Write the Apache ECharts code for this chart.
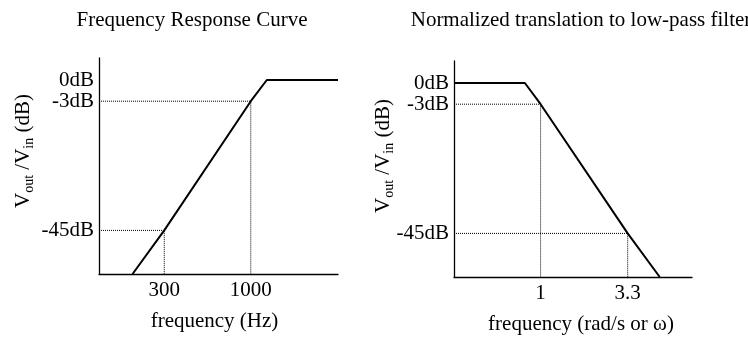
<!DOCTYPE html>
<html>
<head>
<meta charset="utf-8">
<script src="https://cdn.jsdelivr.net/npm/echarts@6/dist/echarts.min.js"></script>
<style>
  html, body { margin: 0; padding: 0; background: #fff; }
  #chart { width: 748px; height: 341px; }
</style>
</head>
<body>
<div id="chart"></div>
<script>
// High-pass response (Hz) and its normalized low-pass equivalent (rad/s)
const hpFreq = [193, 300, 1000, 1250, 3366];
const hpGain = [-77, -45, -3, 0, 0];
const lpFreq = [0.305, 0.806, 1, 3.3, 5.12];
const lpGain = [0, 0, -3, -45, -77];

// Reference points marked with dotted guides
const hpMarkFreq = [300, 1000];
const hpMarkGain = [-45, -3];
const lpMarkFreq = [1, 3.3];
const lpMarkGain = [-3, -45];

// Tick labels
const hpFreqTicks = [300, 1000];
const lpFreqTicks = [1, 3.3];
const gainTicks = [0, -3, -45];

// Axis extents
const hpFreqRange = [121, 3366];
const lpFreqRange = [0.305, 7.97];
const gainRange = [-77, 2.5];

// Schematic gain scale: compresses deep attenuation so 0 dB and -3 dB stay apart
const GAIN_REF = 12.5;
const gainToAxis = g => -Math.log10(GAIN_REF - g);
const axisToGain = v => GAIN_REF - Math.pow(10, -v);
// Frequency is plotted on a logarithmic scale
const freqToAxis = f => Math.log10(f);
const axisToFreq = v => Math.pow(10, v);

const FONT = "'Liberation Serif', 'Times New Roman', serif";
const INK = '#000';

const freqLabel = v => {
  const f = axisToFreq(v);
  return f >= 10 ? String(Math.round(f)) : String(+f.toPrecision(2));
};
const gainLabel = v => Math.round(axisToGain(v)) + 'dB';

function xAxisFor(gridIndex, range, ticks, name, namePadding) {
  return {
    type: 'value',
    gridIndex,
    min: freqToAxis(range[0]),
    max: freqToAxis(range[1]),
    name,
    nameLocation: 'middle',
    nameGap: 37,
    nameTextStyle: { fontFamily: FONT, fontSize: 21, color: INK, padding: namePadding },
    axisLine: { show: true, onZero: false, lineStyle: { color: INK, width: 1.3 } },
    axisTick: { show: false },
    splitLine: { show: false },
    axisLabel: {
      customValues: ticks.map(freqToAxis),
      formatter: freqLabel,
      margin: 6,
      fontFamily: FONT, fontSize: 21, color: INK
    }
  };
}

function yAxisFor(gridIndex) {
  return {
    type: 'value',
    gridIndex,
    min: gainToAxis(gainRange[0]),
    max: gainToAxis(gainRange[1]),
    axisLine: { show: true, onZero: false, lineStyle: { color: INK, width: 1.3 } },
    axisTick: { show: false },
    splitLine: { show: false },
    axisLabel: {
      customValues: gainTicks.map(gainToAxis),
      formatter: gainLabel,
      margin: 5,
      fontFamily: FONT, fontSize: 21, color: INK
    }
  };
}

function responseSeries(axisIndex, freqs, gains) {
  return {
    type: 'line',
    xAxisIndex: axisIndex,
    yAxisIndex: axisIndex,
    data: freqs.map((f, i) => [freqToAxis(f), gainToAxis(gains[i])]),
    symbol: 'none',
    silent: true,
    z: 5,
    lineStyle: { color: INK, width: 2 }
  };
}

function guideSeries(axisIndex, xMin, freqs, gains) {
  return freqs.map((f, i) => ({
    type: 'line',
    xAxisIndex: axisIndex,
    yAxisIndex: axisIndex,
    data: [
      [freqToAxis(xMin), gainToAxis(gains[i])],
      [freqToAxis(f), gainToAxis(gains[i])],
      [freqToAxis(f), gainToAxis(gainRange[0])]
    ],
    symbol: 'none',
    silent: true,
    z: 2,
    lineStyle: { color: '#000', width: 1, type: [1, 1] }
  }));
}

function gainName(x, y) {
  return {
    type: 'text',
    x, y,
    rotation: Math.PI / 2,
    silent: true,
    style: {
      text: '{v|V}{s|out}{v| /V}{s|in}{v| (dB)}',
      align: 'center',
      verticalAlign: 'middle',
      fill: INK,
      rich: {
        v: { fontFamily: FONT, fontSize: 21, lineHeight: 26, verticalAlign: 'middle', fill: INK },
        s: { fontFamily: FONT, fontSize: 14, lineHeight: 14, verticalAlign: 'bottom', fill: INK }
      }
    }
  };
}

const chart = echarts.init(document.getElementById('chart'), null, { renderer: 'canvas' });
chart.setOption({
  backgroundColor: '#fff',
  animation: false,
  title: [
    { text: 'Frequency Response Curve', left: 187, top: 5, textAlign: 'center',
      textStyle: { fontFamily: FONT, fontSize: 21, fontWeight: 'normal', color: INK } },
    { text: 'Normalized translation to low-pass filter', left: 576, top: 5, textAlign: 'center',
      textStyle: { fontFamily: FONT, fontSize: 21, fontWeight: 'normal', color: INK } }
  ],
  grid: [
    { left: 99, top: 58, width: 239, height: 216 },
    { left: 454, top: 61, width: 238, height: 216 }
  ],
  xAxis: [
    xAxisFor(0, hpFreqRange, hpFreqTicks, 'frequency (Hz)', [0, 8, 0, 0]),
    xAxisFor(1, lpFreqRange, lpFreqTicks, 'frequency (rad/s or ω)', [0, 0, 0, 16])
  ],
  yAxis: [yAxisFor(0), yAxisFor(1)],
  graphic: [gainName(23, 151), gainName(383, 156)],
  series: [
    responseSeries(0, hpFreq, hpGain),
    responseSeries(1, lpFreq, lpGain),
    ...guideSeries(0, hpFreqRange[0], hpMarkFreq, hpMarkGain),
    ...guideSeries(1, lpFreqRange[0], lpMarkFreq, lpMarkGain)
  ]
});
</script>
</body>
</html>
